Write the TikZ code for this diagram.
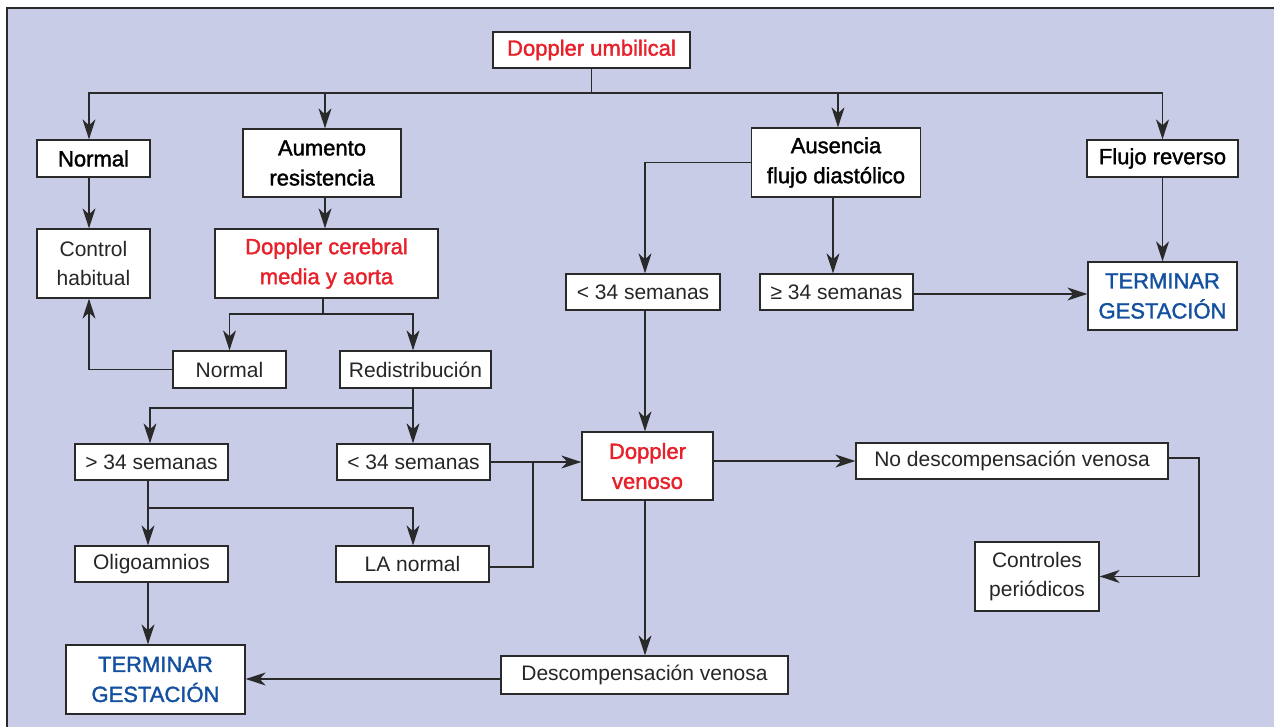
\documentclass[tikz,border=0pt]{standalone}
\usepackage{fontspec}
\setmainfont{Liberation Sans}[BoldFont={Liberation Sans},BoldFeatures={FakeBold=1.6}]
\usetikzlibrary{arrows.meta}
\definecolor{bg}{HTML}{C8CCE6}
\definecolor{myred}{HTML}{E8202A}
\definecolor{myblue}{HTML}{1450A0}
\definecolor{ln}{HTML}{2A2A2A}
\begin{document}
\begin{tikzpicture}[x=1pt,y=-1pt,
 box/.style={draw=ln, line width=1.3pt, fill=white, inner sep=0pt, align=center, font=\fontsize{21}{29}\selectfont, text=black!85},
 hbox/.style={box, font=\fontsize{22}{30}\selectfont\bfseries, text=black},
 redbox/.style={hbox, text=myred},
 bluebox/.style={hbox, text=myblue},
 conn/.style={draw=ln, line width=1.3pt},
 arr/.style={conn, -{Stealth[length=20pt,width=13pt,inset=6pt]}}]

\useasboundingbox (0,0) rectangle (1274,727);
\fill[white] (0,0) rectangle (1274,727);
\fill[bg] (7,8) rectangle (1274,727);
\draw[ln, line width=1.5pt] (7,727) -- (7,8) -- (1274,8);

\node[redbox, minimum width=197, minimum height=36] (umb) at (591.5,50) {Doppler umbilical};
\node[hbox, minimum width=113, minimum height=37] (nor) at (93.5,158.5) {Normal};
\node[hbox, minimum width=158, minimum height=68] (aum) at (322,163) {Aumento\\resistencia};
\node[hbox, minimum width=169, minimum height=69] (aus) at (836,162.5) {Ausencia\\flujo diastólico};
\node[hbox, minimum width=151, minimum height=37] (rev) at (1162.5,158.5) {Flujo reverso};
\node[box, minimum width=113, minimum height=69] (ctl) at (93.5,263.5) {Control\\habitual};
\node[redbox, minimum width=223, minimum height=69] (cer) at (326.5,263.5) {Doppler cerebral\\media y aorta};
\node[box, minimum width=113, minimum height=37] (nor2) at (229.5,369.5) {Normal};
\node[box, minimum width=151, minimum height=37] (red) at (415.5,369.5) {Redistribución};
\node[box, minimum width=153, minimum height=36] (gt) at (151.5,462) {> 34 semanas};
\node[box, minimum width=153, minimum height=36] (lt) at (413.5,462) {< 34 semanas};
\node[box, minimum width=153, minimum height=36] (oli) at (151.5,564) {Oligoamnios};
\node[box, minimum width=153, minimum height=36] (la) at (412.5,564) {LA normal};
\node[redbox, minimum width=131, minimum height=68] (ven) at (647.5,466) {Doppler\\venoso};
\node[box, minimum width=312, minimum height=36] (nodesc) at (1012,461) {No descompensación venosa};
\node[box, minimum width=124, minimum height=69] (cp) at (1037,576.5) {Controles\\periódicos};
\node[box, minimum width=154, minimum height=36] (lt2) at (643,292) {< 34 semanas};
\node[box, minimum width=153, minimum height=36] (ge) at (836.5,292) {≥ 34 semanas};
\node[bluebox, minimum width=149, minimum height=68] (tr) at (1162.5,296) {TERMINAR\\GESTACIÓN};
\node[box, minimum width=287, minimum height=38] (desc) at (644.5,675) {Descompensación venosa};
\node[bluebox, minimum width=179, minimum height=69] (tl) at (155.5,679.5) {TERMINAR\\GESTACIÓN};

% top bus
\coordinate (bus) at (591.5,93);
\draw[conn] (umb.south) -- (bus);
\draw[arr] (bus) -| ([xshift=-4.5pt]nor.north);
\draw[arr] (bus) -| ([xshift=3pt]aum.north);
\draw[arr] (bus) -| ([xshift=2pt]aus.north);
\draw[arr] (bus) -| (rev.north);

% left column
\coordinate (n1) at ([xshift=-4.5pt]nor.south);
\draw[arr] (n1) -- (n1 |- ctl.north);
\coordinate (a1) at ([xshift=3pt]aum.south);
\draw[arr] (a1) -- (a1 |- cer.north);

\coordinate (c1) at ([xshift=-3.5pt]cer.south);
\coordinate (cb) at (323,314);
\draw[conn] (c1) -- (cb);
\draw[arr] (cb) -| (nor2.north);
\draw[arr] (cb) -| ([xshift=-2.5pt]red.north);
\draw[arr] (nor2.west) -| (n1 |- ctl.south);

\coordinate (r1) at ([xshift=-2.5pt]red.south);
\coordinate (rb) at (413,408);
\draw[conn] (r1) -- (rb);
\draw[arr] (rb) -| ([xshift=-1.5pt]gt.north);
\draw[arr] (rb) -- (rb |- lt.north);

\coordinate (g1) at ([xshift=-3.5pt]gt.south);
\coordinate (gb) at (148,508);
\draw[arr] (g1) -- (g1 |- oli.north);
\draw[arr] (gb) -| ([xshift=0.5pt]la.north);

\draw[arr] (lt.east) -- (lt.east -| ven.west);
\coordinate (lj) at (533,462);
\draw[conn] ([yshift=-3pt]la.east) -| (lj);

\coordinate (o1) at ([xshift=-3.5pt]oli.south);
\draw[arr] (o1) -- (o1 |- tl.north);

% middle / right
\draw[arr] (ven.east |- nodesc.west) -- (nodesc.west);
\coordinate (nd1) at ([yshift=3pt]nodesc.east);
\coordinate (ndc) at (1199,458);
\draw[arr] (nd1) -- (ndc) |- (cp.east);

\draw[arr] (aus.west) -| ([xshift=2pt]lt2.north);
\coordinate (l2) at ([xshift=2pt]lt2.south);
\draw[arr] (l2) -- (l2 |- ven.north);
\coordinate (au2) at ([xshift=-3pt]aus.south);
\draw[arr] (au2) -- (au2 |- ge.north);
\coordinate (ge1) at ([yshift=-2pt]ge.east);
\draw[arr] (ge1) -- (ge1 -| tr.west);
\draw[arr] (rev.south) -- (tr.north);

\coordinate (v1) at ([xshift=-2.5pt]ven.south);
\draw[arr] (v1) -- (v1 |- desc.north);
\coordinate (d1) at ([yshift=-4pt]desc.west);
\draw[arr] (d1) -- (d1 -| tl.east);
\end{tikzpicture}
\end{document}
